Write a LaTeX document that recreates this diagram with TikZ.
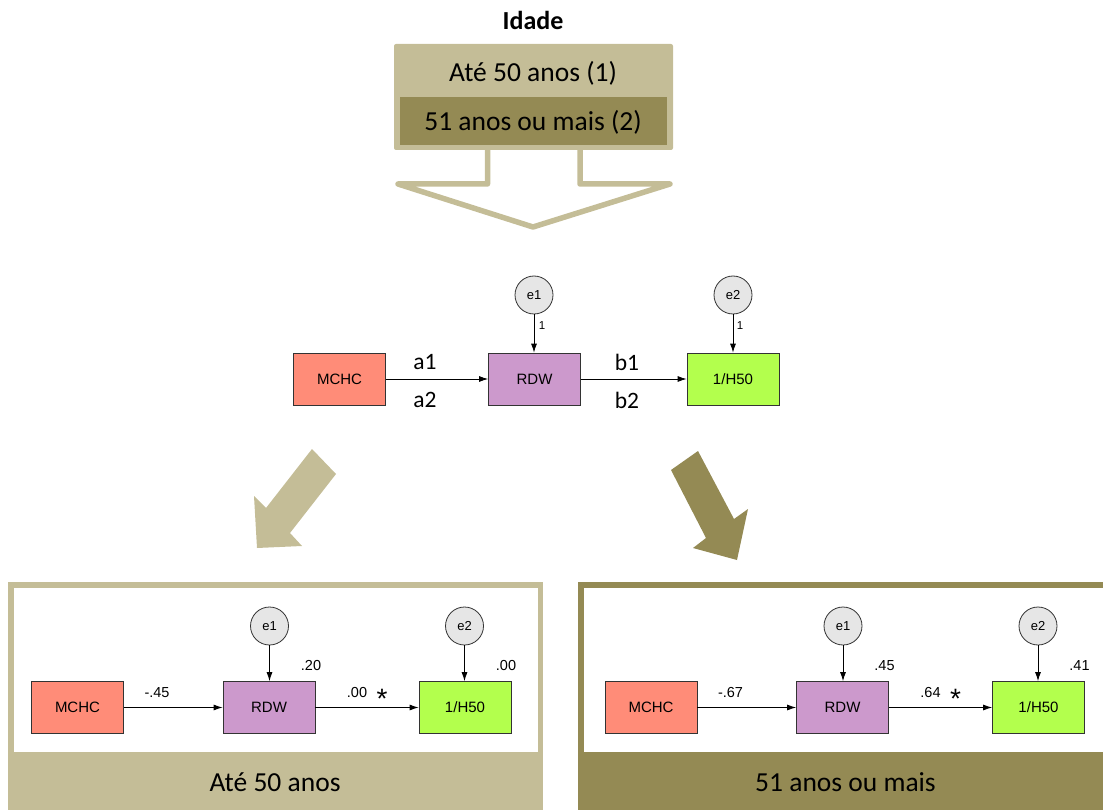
\documentclass[tikz,border=0pt]{standalone}
\usepackage{fontspec}
\setmainfont{Carlito}
\newfontfamily\arialf{Liberation Sans}
\usetikzlibrary{arrows.meta}
\definecolor{tanlight}{HTML}{C4BD97}
\definecolor{tandark}{HTML}{948A54}
\definecolor{mchcfill}{HTML}{FF8C78}
\definecolor{rdwfill}{HTML}{CC99CC}
\definecolor{hfill}{HTML}{B3FF4D}
\definecolor{errfill}{HTML}{E6E6E6}
\definecolor{edgegray}{HTML}{333333}

% one mediation model: prefix, x offset, a, R2(RDW), b, R2(H50)
\newcommand\semmodel[6]{%
  \begin{scope}[xshift=#2pt]
    \node[var, fill=mchcfill] (#1m) at (77.5,707.5) {MCHC};
    \node[var, fill=rdwfill]  (#1r) at (269,707.5) {RDW};
    \node[var, fill=hfill]    (#1h) at (465,707.5) {1/H50};
    \node[err] (#1e1) at (269.5,626) {e1};
    \node[err] (#1e2) at (464.5,626) {e2};
    \draw[semarrow] (#1m) -- (#1r);
    \draw[semarrow] (#1r) -- (#1h);
    \draw[semarrow] (#1e1) -- (#1r.north -| #1e1);
    \draw[semarrow] (#1e2) -- (#1h.north -| #1e2);
    \node[coef] (#1ca) at (157,693) {#3};
    \node[coef] (#1cr) at (311,666) {#4};
    \node[coef] (#1cb) at (357,693) {#5};
    \node[star] (#1cs) at (382,708) {*};
    \node[coef] (#1ch) at (506,666) {#6};
  \end{scope}}

\begin{document}
\begin{tikzpicture}[x=1pt,y=-1pt,
  var/.style={draw=edgegray, line width=0.8pt, minimum width=92pt, minimum height=52pt,
    inner sep=0pt, font=\arialf\fontsize{15}{17}\selectfont},
  err/.style={circle, draw=edgegray, fill=errfill, line width=0.8pt, minimum size=38pt,
    inner sep=0pt, font=\arialf\fontsize{13}{15}\selectfont},
  semarrow/.style={-{Latex[length=9pt,width=6pt]}, line width=0.8pt, draw=black},
  coef/.style={font=\arialf\fontsize{14.5}{16}\selectfont, inner sep=0pt},
  star/.style={font=\arialf\fontsize{28}{30}\selectfont, inner sep=0pt, anchor=base},
  one/.style={font=\arialf\fontsize{11.5}{13}\selectfont, inner sep=0pt},
  plabel/.style={font=\fontsize{23.5}{26}\selectfont, inner sep=0pt},
  big/.style={font=\fontsize{27.5}{31}\selectfont, inner sep=0pt}
]
\useasboundingbox (0,0) rectangle (1103,810);

% --- grouping variable ---
\node[big, font=\bfseries\fontsize{26}{30}\selectfont] (title) at (533,20) {Idade};
\fill[tanlight, rounded corners=2pt] (394,44) rectangle (673,150);
\fill[tandark] (400,97) rectangle (667,145);
\node[big] (g1) at (533,73) {Até 50 anos (1)};
\node[big] (g2) at (533,122) {51 anos ou mais (2)};
\draw[tanlight, line width=5.5pt, line join=round]
  (487.5,150) -- (487.5,184) -- (398,184) -- (533,227) -- (670,184)
  -- (580,184) -- (580,150);

% --- general model ---
\node[var, fill=mchcfill] (m) at (339.5,379) {MCHC};
\node[var, fill=rdwfill]  (r) at (534.5,379) {RDW};
\node[var, fill=hfill]    (h) at (733,379) {1/H50};
\node[err] (e1) at (534,295) {e1};
\node[err] (e2) at (733,295) {e2};
\draw[semarrow] (m) -- (r);
\draw[semarrow] (r) -- (h);
\draw[semarrow] (e1) -- (r.north -| e1);
\draw[semarrow] (e2) -- (h.north -| e2);
\node[one] (l1) at (542,326) {1};
\node[one] (l2) at (740,326) {1};
\node[plabel] (a1) at (425,362) {a1};
\node[plabel] (a2) at (425,400) {a2};
\node[plabel] (b1) at (627,362) {b1};
\node[plabel] (b2) at (627,400) {b2};

% --- arrows to the groups ---
\fill[tanlight] (312,449) -- (336,474) -- (290,533) -- (302,546) -- (257,548)
  -- (254,496) -- (266,508) -- cycle;
\fill[tandark] (698,451) -- (734,519) -- (748,509) -- (737,560) -- (693,548)
  -- (706,538) -- (671,470) -- cycle;

% --- group panels ---
\fill[tanlight] (8,582) rectangle (543,810);
\fill[white] (14,588) rectangle (537.5,752);
\node[big] (p1) at (275,782) {Até 50 anos};
\fill[tandark] (577.5,582) rectangle (1103,810);
\fill[white] (583.5,588) rectangle (1103,752);
\node[big] (p2) at (845.5,782) {51 anos ou mais};

\semmodel{y}{0}{-.45}{.20}{.00}{.00}
\semmodel{o}{573.5}{-.67}{.45}{.64}{.41}
\end{tikzpicture}
\end{document}
